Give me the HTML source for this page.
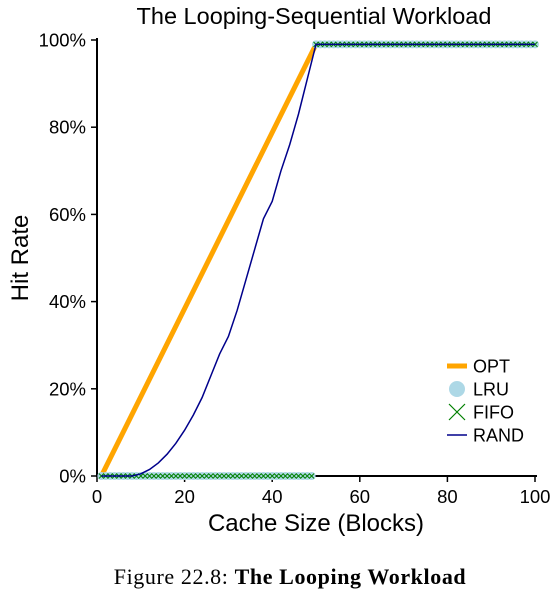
<!DOCTYPE html>
<html><head><meta charset="utf-8"><style>
body{margin:0;background:#fff;width:554px;height:593px;overflow:hidden}
svg text{font-family:"Liberation Sans",sans-serif}
</style></head><body>
<svg width="554" height="593">
<g id="plot"></g>
<text x="314" y="24" font-size="23.5" text-anchor="middle">The Looping-Sequential Workload</text>
<text x="316" y="531" font-size="24" text-anchor="middle">Cache Size (Blocks)</text>
<text transform="translate(28,258) rotate(-90)" font-size="24" text-anchor="middle">Hit Rate</text>
<text x="290" y="584" font-size="22" text-anchor="middle" style="font-family:'Liberation Serif',serif;letter-spacing:0.6px">Figure 22.8: <tspan font-weight="bold">The Looping Workload</tspan></text>
</svg>
<script>
const xTicks=[0,20,40,60,80,100];
const yTicks=[0,20,40,60,80,100];
const randX=[1,8,10,12,14,16,18,20,22,24,26,28,30,32,34,36,38,40,42,44,46,48,50,100];
const randY=[0,0,0.5,1.5,3,5,7.5,10.5,14,18,23,28,32,38,45,52,59,63,70,76,83,91,99,99];
const optX=[1,50,100];
const optY=[0,99,99];
const cacheSizes=[];for(let i=1;i<=100;i++)cacheSizes.push(i);
const lruY=cacheSizes.map(c=>c<50?0:99);
const fifoY=cacheSizes.map(c=>c<50?0:99);
const NS="http://www.w3.org/2000/svg";
const X=v=>97+v*4.38, Y=v=>476-v*4.36;
const g=document.getElementById('plot');
function el(t,a){const e=document.createElementNS(NS,t);for(const k in a)e.setAttribute(k,a[k]);g.appendChild(e);return e;}
let e;
e=el('line',{x1:97,y1:38,x2:97,y2:477,stroke:'#000','stroke-width':2});


e=el('line',{x1:96,y1:476,x2:537,y2:476,stroke:'#000','stroke-width':2});


xTicks.forEach(t=>{
 e=el('line',{x1:X(t),y1:476,x2:X(t),y2:482,stroke:'#000','stroke-width':1.5});
 
 
 e=el('text',{x:X(t),y:503,'font-size':18.5,'text-anchor':'middle'});e.textContent=t;
 
 
});
yTicks.forEach(t=>{
 e=el('line',{x1:91,y1:Y(t),x2:97,y2:Y(t),stroke:'#000','stroke-width':1.5});
 
 
 e=el('text',{x:86,y:Y(t)+6.5,'font-size':18.5,'text-anchor':'end'});e.textContent=t+'%';
 
 
});
const pts=(xs,ys)=>xs.map((x,i)=>X(x)+','+Y(ys[i])).join(' ');
e=el('polyline',{points:pts(optX,optY),fill:'none',stroke:'#ffa500','stroke-width':5});


cacheSizes.forEach((c,i)=>{
 e=el('circle',{cx:X(c),cy:Y(lruY[i]),r:4,fill:'#add8e6'});
 
 
});
cacheSizes.forEach((c,i)=>{
 const x=X(c),y=Y(fifoY[i]),s=2.5;
 e=el('path',{d:`M${x-s},${y-s}L${x+s},${y+s}M${x-s},${y+s}L${x+s},${y-s}`,stroke:'#008000','stroke-width':1});
 
 
});
e=el('polyline',{points:pts(randX,randY),fill:'none',stroke:'#00008b','stroke-width':1.5});


const L=[['OPT',366],['LRU',389],['FIFO',412],['RAND',435]];
e=el('line',{x1:447,y1:366,x2:467,y2:366,stroke:'#ffa500','stroke-width':5});


e=el('circle',{cx:457,cy:389,r:8,fill:'#add8e6'});


e=el('path',{d:'M449,404L465,420M449,420L465,404',stroke:'#008000','stroke-width':1.2});


e=el('line',{x1:447,y1:435,x2:467,y2:435,stroke:'#00008b','stroke-width':1.5});


L.forEach(([n,y])=>{
 e=el('text',{x:473,y:y+6.5,'font-size':18});e.textContent=n;
 
 
});
</script>
</body></html>
